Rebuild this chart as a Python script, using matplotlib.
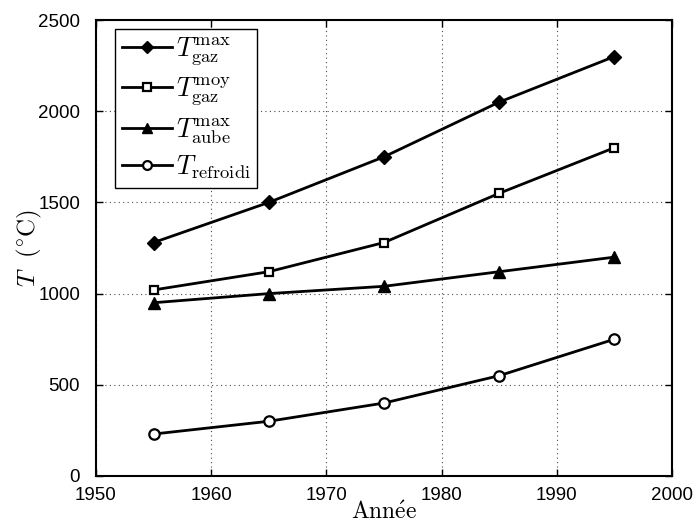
import matplotlib
matplotlib.use("Agg")
import matplotlib.pyplot as plt

plt.rcParams['mathtext.fontset'] = 'cm'
plt.rcParams['font.family'] = ['Liberation Sans', 'DejaVu Sans']

annees = [1955, 1965, 1975, 1985, 1995]
t_gaz_max = [1280, 1500, 1750, 2050, 2300]
t_gaz_moy = [1020, 1120, 1280, 1550, 1800]
t_aube_max = [950, 1000, 1040, 1120, 1200]
t_refroidi = [230, 300, 400, 550, 750]

fig = plt.figure(figsize=(6.98, 5.27), dpi=100)
ax = fig.add_axes([0.1375, 0.0968, 0.8253, 0.8652])

ax.plot(annees, t_gaz_max, '-D', color='k', lw=2, ms=7.5, mfc='k',
        label=r'$T_{\mathrm{gaz}}^{\mathrm{max}}$')
ax.plot(annees, t_gaz_moy, '-s', color='k', lw=2, ms=6, mfc='w', mew=1.6,
        label=r'$T_{\mathrm{gaz}}^{\mathrm{moy}}$')
ax.plot(annees, t_aube_max, '-^', color='k', lw=2, ms=9, mfc='k',
        label=r'$T_{\mathrm{aube}}^{\mathrm{max}}$')
ax.plot(annees, t_refroidi, '-o', color='k', lw=2, ms=7.5, mfc='w', mew=1.6,
        label=r'$T_{\mathrm{refroidi}}$')

ax.set_xlim(1950, 2000)
ax.set_ylim(0, 2500)
ax.set_xticks(range(1950, 2001, 10))
ax.set_yticks(range(0, 2501, 500))
ax.grid(True, linestyle=(0, (1, 3)), color='0.3', lw=0.8)
ax.tick_params(direction='in', top=True, right=True, labelsize=13.5, length=5, width=1)
ax.tick_params(axis='x', pad=8)
ax.tick_params(axis='y', pad=11.5)
for sp in ax.spines.values():
    sp.set_linewidth(1.5)

ax.set_xlabel(r'$\mathrm{Ann\acute{e}e}$', fontsize=17, labelpad=-2)
ax.set_ylabel(r'$T\ \ (^{\circ}\mathrm{C})$', fontsize=18, labelpad=-4)

leg = ax.legend(loc='upper left', bbox_to_anchor=(0.033, 0.98), borderaxespad=0,
                fancybox=False, edgecolor='k', framealpha=1, fontsize=19,
                handlelength=1.9, handletextpad=0.15, labelspacing=0.3,
                borderpad=0.25, markerscale=0.85)
leg.get_frame().set_linewidth(1.0)

fig.savefig('out.png', dpi=100)
